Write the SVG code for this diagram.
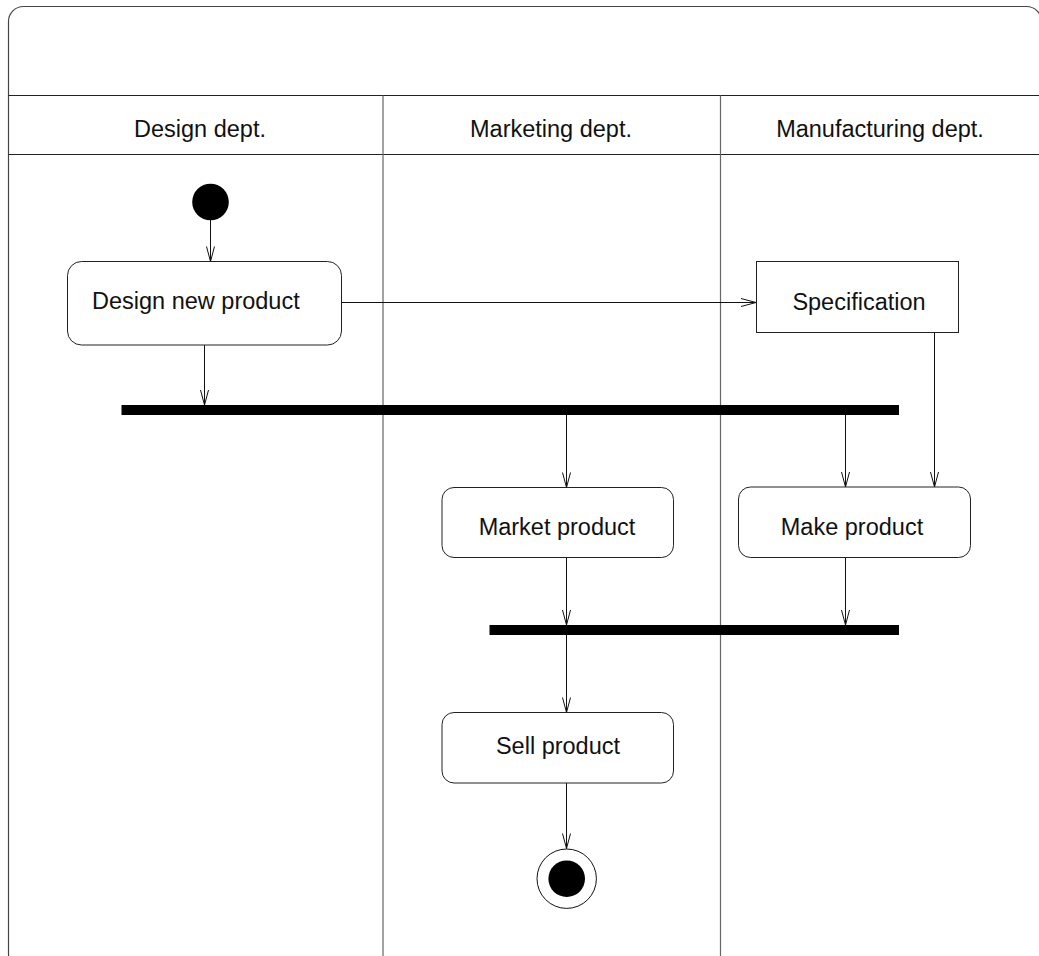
<svg xmlns="http://www.w3.org/2000/svg" width="1039" height="956" viewBox="0 0 1039 956">
  <style>
    .frame { fill: #fff; stroke: #444; stroke-width: 1.2; }
    .hline { stroke: #222; stroke-width: 1; fill: none; }
    .lane { stroke: #666; stroke-width: 1.2; fill: none; }
    .act { fill: #fff; stroke: #222; stroke-width: 1; }
    .bar { fill: #000; }
    .edge { stroke: #111; stroke-width: 1; fill: none; marker-end: url(#open); }
    .lbl { font-family: "Liberation Sans", Arial, sans-serif; font-size: 23.5px; fill: #111; }
    .c { text-anchor: middle; }
  </style>
  <defs>
    <marker id="open" markerUnits="userSpaceOnUse" markerWidth="18" markerHeight="12" refX="16" refY="5" orient="auto">
      <path d="M1,1 L16,5 L1,9" fill="none" stroke="#111" stroke-width="1"/>
    </marker>
  </defs>

  <rect width="1039" height="956" fill="#fff"/>

  <!-- swimlane frame -->
  <g id="swimlanes">
    <rect class="frame" x="8.5" y="6.5" width="1033" height="962" rx="15" ry="15"/>
    <line class="hline" x1="8.5" y1="95.5" x2="1041" y2="95.5"/>
    <line class="hline" x1="8.5" y1="154.5" x2="1041" y2="154.5"/>
    <line class="lane" x1="383" y1="95.5" x2="383" y2="956"/>
    <line class="lane" x1="720.5" y1="95.5" x2="720.5" y2="956"/>
    <text class="lbl c" x="200" y="137">Design dept.</text>
    <text class="lbl c" x="551" y="137">Marketing dept.</text>
    <text class="lbl c" x="880" y="137">Manufacturing dept.</text>
  </g>

  <!-- connectors -->
  <g id="edges">
    <line class="edge" x1="210.5" y1="220" x2="210.5" y2="261.5"/>
    <line class="edge" x1="342" y1="302.5" x2="756" y2="302.5"/>
    <line class="edge" x1="204.5" y1="345" x2="204.5" y2="405"/>
    <line class="edge" x1="934.5" y1="333" x2="934.5" y2="487"/>
    <line class="edge" x1="566.5" y1="415" x2="566.5" y2="487.5"/>
    <line class="edge" x1="845.5" y1="415" x2="845.5" y2="487"/>
    <line class="edge" x1="566.5" y1="557.5" x2="566.5" y2="625"/>
    <line class="edge" x1="845.5" y1="557.5" x2="845.5" y2="625"/>
    <line class="edge" x1="566.5" y1="635" x2="566.5" y2="712.5"/>
    <line class="edge" x1="566.5" y1="783" x2="566.5" y2="848.5"/>
  </g>

  <g id="start">
    <circle cx="210.5" cy="202" r="18.3" fill="#000"/>
  </g>

  <g id="design">
    <rect class="act" x="67.5" y="261.5" width="274" height="83.5" rx="14" ry="14"/>
    <text class="lbl" x="92" y="309">Design new product</text>
  </g>

  <g id="specification">
    <rect class="act" x="756.5" y="261.5" width="202" height="71"/>
    <text class="lbl c" x="859" y="310">Specification</text>
  </g>

  <g id="fork">
    <rect class="bar" x="121.5" y="405" width="777.5" height="10"/>
  </g>

  <g id="market">
    <rect class="act" x="442" y="487.5" width="231.5" height="70" rx="12" ry="12"/>
    <text class="lbl c" x="557" y="535">Market product</text>
  </g>

  <g id="make">
    <rect class="act" x="738.5" y="487" width="232" height="70.5" rx="12" ry="12"/>
    <text class="lbl c" x="852" y="535">Make product</text>
  </g>

  <g id="join">
    <rect class="bar" x="489.5" y="625" width="409.5" height="10"/>
  </g>

  <g id="sell">
    <rect class="act" x="442" y="712.5" width="231.5" height="70.5" rx="12" ry="12"/>
    <text class="lbl c" x="558" y="754">Sell product</text>
  </g>

  <g id="end">
    <circle cx="566.7" cy="878.7" r="29.7" fill="#fff" stroke="#111" stroke-width="1"/>
    <circle cx="566.7" cy="878.7" r="18.3" fill="#000"/>
  </g>
</svg>
